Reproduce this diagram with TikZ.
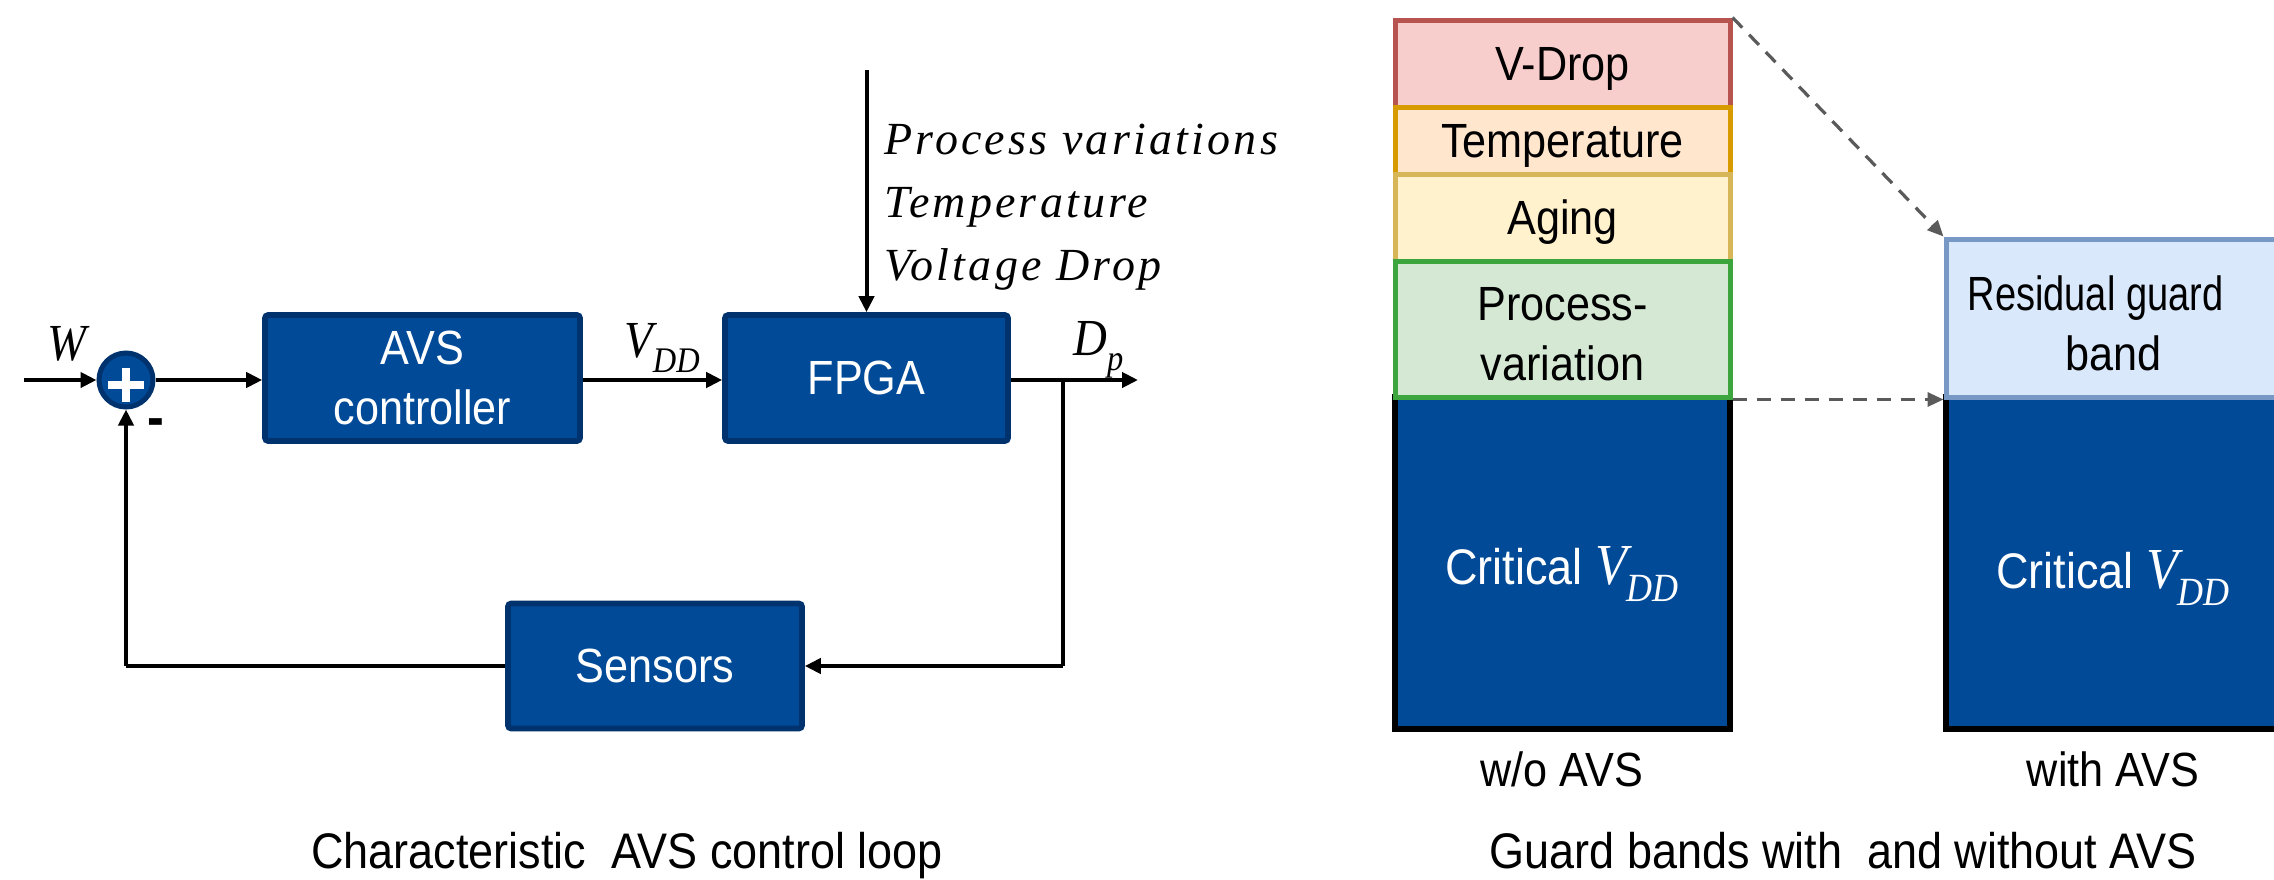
\documentclass[tikz,border=0pt]{standalone}
\usepackage{fontspec}
\setmainfont{Liberation Sans}[FakeStretch=0.9]
\newfontfamily\tms{Liberation Serif}[FakeStretch=0.9]
\newfontfamily\tmsls{Liberation Serif}[LetterSpace=7]
\usetikzlibrary{arrows.meta}
\definecolor{boxblue}{RGB}{1,74,152}
\definecolor{boxedge}{RGB}{0,50,110}
\definecolor{vdF}{HTML}{F8CECC}\definecolor{vdD}{HTML}{B85450}
\definecolor{tpF}{HTML}{FFE6CC}\definecolor{tpD}{HTML}{D79B00}
\definecolor{agF}{HTML}{FFF2CC}\definecolor{agD}{HTML}{D6B656}
\definecolor{prF}{HTML}{D5E8D4}\definecolor{prD}{HTML}{3DA53D}
\definecolor{rgF}{HTML}{DAE8FC}\definecolor{rgD}{HTML}{7898C6}
\definecolor{dashgray}{RGB}{90,90,90}
\newcommand\sff{\fontsize{24}{30}\selectfont}
\newcommand\capf{\fontsize{25}{30}\selectfont}
\newcommand\subf{\fontsize{18}{18}\selectfont}
\newcommand\mvdd{{\tms\itshape V\raisebox{-0.3em}{\subf DD}}}
\newcommand\bigvdd{{\tms\itshape\fontsize{29}{30}\selectfont V\raisebox{-0.3em}{\fontsize{20}{20}\selectfont DD}}}
\begin{document}
\begin{tikzpicture}[x=0.5pt,y=-0.5pt,
  blk/.style={draw=boxedge, fill=boxblue, line width=2.8pt, rounded corners=1.5pt,
    text=white, font=\sff, inner sep=0pt, align=center},
  sig/.style={line width=2pt, -{Triangle[length=8pt,width=7.5pt]}},
  ln/.style={line width=2pt},
  band/.style={line width=2.5pt, minimum width=167.5pt, inner sep=0pt},
  btxt/.style={font=\sff, align=center, inner sep=0pt, yshift=-2.5pt},
  crit/.style={draw=black, fill=boxblue, line width=2.8pt, minimum width=167.5pt, minimum height=166pt, inner sep=0pt},
  dsh/.style={draw=dashgray, line width=1.6pt, dash pattern=on 7pt off 5pt,
    -{Triangle[length=8pt,width=7pt,fill=dashgray]}},
  lbl/.style={font=\sff},
  crtxt/.style={font=\fontsize{25}{30}\selectfont, text=white, anchor=base},
  captxt/.style={font=\capf},
  mlab/.style={font=\tms\itshape\fontsize{26}{30}\selectfont}]
\clip (0,0) rectangle (2274,879);
\fill[white] (0,0) rectangle (2274,879);

% ---------------- left: control loop ----------------
\node[circle, draw=boxedge, fill=boxblue, line width=2.5pt, minimum size=27pt, inner sep=0pt] (sum) at (126,380) {};
\draw[white, line width=3.6pt] ([yshift=-2.5pt]sum.center) ++(-18,0) -- ++(36,0);
\draw[white, line width=3.6pt] ([yshift=-2.5pt]sum.center) ++(0,-17) -- ++(0,34);

\node[blk, minimum width=157.5pt, minimum height=63pt] (avs) at (422.5,378) {AVS\\controller};
\node[blk, minimum width=141.5pt, minimum height=63pt] (fpga) at (866.5,378) {FPGA};
\node[blk, minimum width=147pt, minimum height=62.5pt] (sens) at (655,666) {Sensors};

\coordinate (win) at (24,380);
\coordinate (dist) at (866.5,70);
\coordinate (dout) at (1138,380);
\coordinate (br) at (1063,380);
\coordinate (brd) at (1063,666);
\coordinate (fbl) at (126,666);

\draw[sig] (win) -- (sum.west);
\draw[sig] (sum.east) -- (avs.west |- sum.east);
\draw[sig] (avs.east |- sum.east) -- (fpga.west |- sum.east);
\draw[sig] (dist) -- (fpga.north);
\draw[sig] (fpga.east |- sum.east) -- (dout);
\draw[ln] (br) -- (brd);
\draw[sig] (brd) -- (sens.east);
\draw[ln] (sens.west) -- (fbl);
\draw[sig] (fbl) -- (sum.south);

\node[mlab, anchor=base] (wlab) at (67,360) {W};
\node[font=\bfseries\fontsize{28}{30}\selectfont] (minus) at (156,428) {-};
\node[anchor=base west, inner sep=0pt] (vddlab) at (624,357) {\fontsize{26}{30}\selectfont\mvdd};
\node[anchor=base west, inner sep=0pt] (dplab) at (1073,355) {\fontsize{26}{30}\selectfont{\tms\itshape D\raisebox{-0.3em}{\subf p}}};
\node[anchor=west, inner sep=0pt, align=left, font=\tmsls\itshape\fontsize{23}{31.5}\selectfont] (dtext) at (884,207)
  {Process variations\\Temperature\\Voltage Drop};

\node[captxt, anchor=base] (cap1) at (627,868) {Characteristic\ \ AVS control loop};

% ---------------- right: guard bands ----------------
\node[crit] (crit1) at (1562.5,563) {};
\node[crit] (crit2) at (2113.5,563) {};
\node[band, draw=vdD, fill=vdF, minimum height=43.5pt] (vdrop) at (1562.5,63.5) {};
\node[band, draw=tpD, fill=tpF, minimum height=33.5pt] (temp) at (1562.5,140.5) {};
\node[band, draw=agD, fill=agF, minimum height=43.5pt] (aging) at (1562.5,217.5) {};
\node[band, draw=prD, fill=prF, minimum height=68pt] (proc) at (1562.5,329) {};
\node[band, draw=rgD, fill=rgF, minimum height=79pt] (resid) at (2113.5,318) {};

\node[btxt] (vdropt) at (vdrop.center) {V-Drop};
\node[btxt] (tempt) at (temp.center) {Temperature};
\node[btxt] (agingt) at (aging.center) {Aging};
\node[btxt] (proct) at (proc.center) {Process-\\variation};
\node[btxt] (residt) at (resid.center) {\scalebox{0.88}[1]{Residual guard}\hspace*{18pt}\\band};

\node[crtxt] (ct1) at (1562,584) {Critical \bigvdd};
\node[crtxt] (ct2) at (2113,588) {Critical \bigvdd};

\draw[dsh] (vdrop.north east) -- (resid.north west);
\draw[dsh] (proc.south east) -- (resid.south west);

\node[lbl, anchor=base] (wo) at (1562,786) {w/o AVS};
\node[lbl, anchor=base] (wi) at (2113,786) {with AVS};
\node[captxt, anchor=base] (cap2) at (1843,868) {Guard bands with\ \ and without AVS};
\end{tikzpicture}
\end{document}
